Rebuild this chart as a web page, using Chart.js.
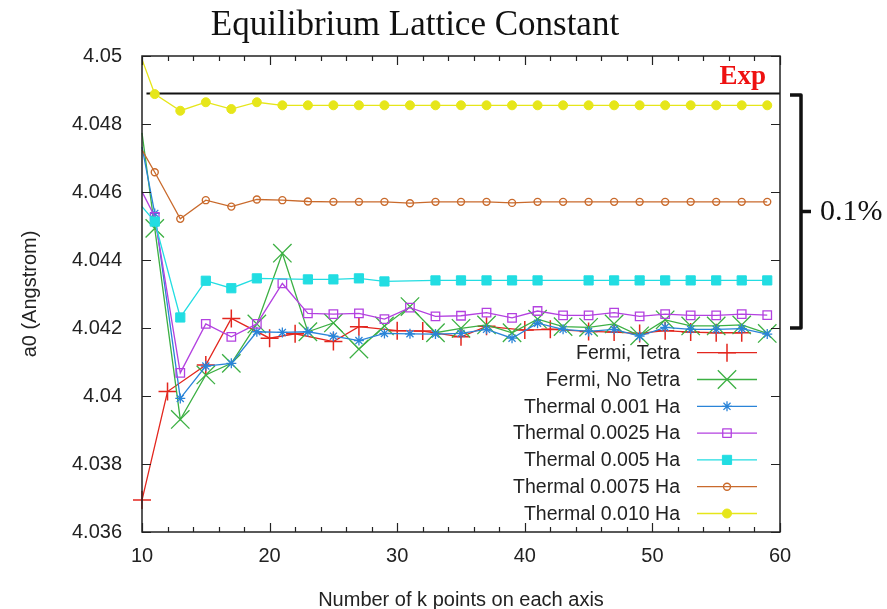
<!DOCTYPE html>
<html><head><meta charset="utf-8">
<script src="https://cdn.jsdelivr.net/npm/chart.js@4.4.1/dist/chart.umd.min.js"></script>
<style>html,body{margin:0;padding:0;background:#fff;}#wrap{width:887px;height:609px;position:relative;}</style>
</head><body><div id="wrap"><canvas id="c" width="887" height="609"></canvas></div>
<script>
// ---------- data ----------
const kOdd = [10,11,13,15,17,19,21,23,25,27,29,31,33,35,37,39,41,43,45,47,49,51,53,55,57,59];
const kTetra = [10,12,15,17,20,22,25,27,30,32,35,37,40,42,45,47,49,51,53,55,57];
const fermiTetra = [4.03694,4.04013,4.04091,4.04228,4.04170,4.04183,4.04160,4.04204,4.04192,4.04191,4.04174,4.04205,4.04194,4.04196,4.04190,4.04188,4.04184,4.04192,4.04188,4.04186,4.04186];
const fermiNoTetra = [4.04774,4.04493,4.03931,4.04062,4.04096,4.04212,4.04420,4.04189,4.04215,4.04138,4.04206,4.04263,4.04186,4.04199,4.04209,4.04186,4.04226,4.04204,4.04202,4.04212,4.04177,4.04224,4.04206,4.04206,4.04209,4.04184];
const thermal0001 = [4.04733,4.04537,4.03993,4.04088,4.04096,4.04189,4.04187,4.04189,4.04176,4.04163,4.04184,4.04183,4.04182,4.04184,4.04196,4.04170,4.04214,4.04196,4.04190,4.04196,4.04176,4.04202,4.04196,4.04196,4.04198,4.04182];
const thermal00025 = [4.04601,4.04527,4.04068,4.04212,4.04174,4.04212,4.04331,4.04243,4.04241,4.04243,4.04226,4.04260,4.04234,4.04236,4.04245,4.04230,4.04250,4.04237,4.04237,4.04245,4.04234,4.04241,4.04237,4.04237,4.04241,4.04238];
const thermal0005 = [4.04557,4.04513,4.04231,4.04339,4.04317,4.04346,null,4.04343,4.04343,4.04346,4.04337,null,4.04340,4.04340,4.04340,4.04340,4.04340,null,4.04340,4.04340,4.04340,4.04340,4.04340,4.04340,4.04340,4.04340];
const thermal00075 = [4.04724,4.04658,4.04521,4.04576,4.04557,4.04578,4.04576,4.04572,4.04571,4.04571,4.04571,4.04567,4.04571,4.04571,4.04571,4.04568,4.04571,4.04571,4.04571,4.04571,4.04571,4.04571,4.04571,4.04571,4.04571,4.04571];
const thermal0010 = [4.04990,4.04888,4.04839,4.04864,4.04844,4.04864,4.04855,4.04855,4.04855,4.04855,4.04855,4.04855,4.04855,4.04855,4.04855,4.04855,4.04855,4.04855,4.04855,4.04855,4.04855,4.04855,4.04855,4.04855,4.04855,4.04855];
const seriesNames = ['Fermi, Tetra','Fermi, No Tetra','Thermal 0.001 Ha','Thermal 0.0025 Ha','Thermal 0.005 Ha','Thermal 0.0075 Ha','Thermal 0.010 Ha'];
const expValue = 4.0489;
const expRange = [10.35, 60];
const bracketRange = [4.04200, 4.04885];
const bracketLabel = '0.1%';
const yTicks = [4.036,4.038,4.04,4.042,4.044,4.046,4.048,4.05];
const yTickLabels = ['4.036','4.038','4.04','4.042','4.044','4.046','4.048','4.05'];
const xTicks = [10,20,30,40,50,60];
const xTickLabels = ['10','20','30','40','50','60'];
const xMinorStep = 2;

// ---------- styles ----------
const styles = [
  {color:'#e3261e', pointStyle:'cross',    radius:9,   bw:1.5, fill:false, edge:true},
  {color:'#3cb043', pointStyle:'crossRot', radius:13,  bw:1.3, fill:false, edge:false},
  {color:'#2a84d8', pointStyle:'star',     radius:5,   bw:1.3, fill:false, edge:false},
  {color:'#b341e0', pointStyle:'rect',     radius:6,   bw:1.3, fill:false, edge:false},
  {color:'#22dde2', pointStyle:'rect',     radius:6.5, bw:1,   fill:true,  edge:false},
  {color:'#c96a2c', pointStyle:'circle',   radius:3.5, bw:1.4, fill:false, edge:false},
  {color:'#e6e61a', pointStyle:'circle',   radius:4.5, bw:1,   fill:true,  edge:false}
];
const sansFont = "'Liberation Sans', Arial, sans-serif";
const serifFont = "'Liberation Serif', 'Times New Roman', serif";
const textColor = '#222';

const seriesX = [kTetra,kOdd,kOdd,kOdd,kOdd,kOdd,kOdd];
const seriesY = [fermiTetra,fermiNoTetra,thermal0001,thermal00025,thermal0005,thermal00075,thermal0010];

const datasets = seriesY.map((ys,i)=>{
  const s = styles[i];
  return {
    label: seriesNames[i],
    data: seriesX[i].map((k,j)=>({x:k, y:ys[j]})),
    borderColor: s.color,
    backgroundColor: s.fill ? s.color : 'rgba(0,0,0,0)',
    borderWidth: 1.3,
    pointStyle: s.pointStyle,
    pointRadius: ctx => (!s.edge && ctx.raw && ctx.raw.x === 10) ? 0 : s.radius,
    pointHoverRadius: s.radius,
    pointBorderWidth: s.bw,
    pointBorderColor: s.color,
    pointBackgroundColor: s.fill ? s.color : 'rgba(0,0,0,0)',
    spanGaps: true,
    clip: false,
    tension: 0,
    order: -i
  };
});
datasets.push({
  label: 'Exp',
  data: expRange.map(x=>({x:x, y:expValue})),
  borderColor: '#111',
  borderWidth: 2,
  pointRadius: 0,
  order: 10
});

function drawMarker(ctx, s, x, y){
  ctx.save();
  ctx.strokeStyle = s.color;
  ctx.fillStyle = s.fill ? s.color : 'rgba(0,0,0,0)';
  ctx.lineWidth = s.bw;
  if (Chart.helpers && Chart.helpers.drawPoint) {
    Chart.helpers.drawPoint(ctx, {pointStyle:s.pointStyle, rotation:0, radius:s.radius, borderWidth:s.bw}, x, y);
  }
  ctx.restore();
}

const decorations = {
  id: 'decorations',
  afterDatasetsDraw(chart){
    const ctx = chart.ctx;
    const a = chart.chartArea;
    const xs = chart.scales.x, ys = chart.scales.y;
    ctx.save();
    // frame
    ctx.strokeStyle = '#222';
    ctx.lineWidth = 1.5;
    ctx.strokeRect(a.left, a.top, a.right - a.left, a.bottom - a.top);
    // y ticks (inward, both sides)
    ctx.lineWidth = 1.2;
    ctx.beginPath();
    yTicks.forEach(v=>{
      const py = Math.round(ys.getPixelForValue(v)) + 0.5;
      ctx.moveTo(a.left, py); ctx.lineTo(a.left + 9, py);
      ctx.moveTo(a.right, py); ctx.lineTo(a.right - 9, py);
    });
    // x ticks (inward, top and bottom), minor every 2
    for (let v = xs.min; v <= xs.max + 1e-9; v += xMinorStep) {
      const px = Math.round(xs.getPixelForValue(v)) + 0.5;
      const len = (v % 10 === 0) ? 9 : 5;
      ctx.moveTo(px, a.bottom); ctx.lineTo(px, a.bottom - len);
      ctx.moveTo(px, a.top); ctx.lineTo(px, a.top + len);
    }
    ctx.stroke();

    // Exp label
    const ey = ys.getPixelForValue(expValue);
    ctx.fillStyle = '#ee1111';
    ctx.font = "bold 27px " + serifFont;
    ctx.textAlign = 'right';
    ctx.textBaseline = 'alphabetic';
    ctx.fillText('Exp', a.right - 14, ey - 9);

    // bracket
    const bt = ys.getPixelForValue(bracketRange[1]);
    const bb = ys.getPixelForValue(bracketRange[0]);
    const bm = (bt + bb) / 2;
    ctx.strokeStyle = '#111';
    ctx.lineWidth = 3.5;
    ctx.lineJoin = 'round';
    ctx.beginPath();
    ctx.moveTo(a.right + 10, bt);
    ctx.lineTo(a.right + 21, bt);
    ctx.lineTo(a.right + 21, bb);
    ctx.lineTo(a.right + 10, bb);
    ctx.moveTo(a.right + 21, bm);
    ctx.lineTo(a.right + 31, bm);
    ctx.stroke();
    ctx.fillStyle = '#111';
    ctx.font = "30px " + serifFont;
    ctx.textAlign = 'left';
    ctx.textBaseline = 'middle';
    ctx.fillText(bracketLabel, a.right + 40, bm + 1);

    // legend (inside plot, bottom right)
    ctx.font = "19.5px " + sansFont;
    ctx.textAlign = 'right';
    ctx.textBaseline = 'middle';
    const rowH = 26.8;
    const firstY = a.bottom - 179.3;
    seriesNames.forEach((name,i)=>{
      const y = firstY + i*rowH;
      const s = styles[i];
      ctx.fillStyle = textColor;
      ctx.fillText(name, a.right - 100, y + 1);
      ctx.strokeStyle = s.color;
      ctx.lineWidth = 1.3;
      ctx.beginPath();
      ctx.moveTo(a.right - 83, y); ctx.lineTo(a.right - 23, y);
      ctx.stroke();
      drawMarker(ctx, s, a.right - 53, y);
    });
    ctx.restore();
  }
};

new Chart(document.getElementById('c'), {
  type: 'line',
  data: { datasets },
  plugins: [decorations],
  options: {
    responsive: false,
    devicePixelRatio: 1,
    animation: false,
    layout: { padding: { left: 50, right: 107, top: 0, bottom: 0 } },
    plugins: {
      legend: { display: false },
      tooltip: { enabled: false },
      title: {
        display: true,
        text: 'Equilibrium Lattice Constant',
        color: '#111',
        font: { family: serifFont, size: 35, weight: 'normal', lineHeight: 1.2 },
        padding: { top: 5, bottom: 9 }
      }
    },
    scales: {
      x: {
        type: 'linear',
        min: 10, max: 60,
        afterBuildTicks: s => { s.ticks = xTicks.map(v=>({value:v})); },
        afterFit: s => { s.height = 77; },
        ticks: {
          callback: (v,i) => xTickLabels[i],
          color: textColor,
          font: { family: sansFont, size: 20 },
          padding: 12,
          maxRotation: 0
        },
        grid: { display: false, drawTicks: false },
        border: { display: false },
        title: {
          display: true,
          text: 'Number of k points on each axis',
          color: textColor,
          font: { family: sansFont, size: 20 },
          padding: { top: 0, bottom: -3 }
        }
      },
      y: {
        type: 'linear',
        min: 4.036, max: 4.05,
        afterBuildTicks: s => { s.ticks = yTicks.map(v=>({value:v})); },
        afterFit: s => { s.width = 92; },
        ticks: {
          callback: (v,i) => yTickLabels[i],
          color: textColor,
          font: { family: sansFont, size: 20 },
          padding: 20
        },
        grid: { display: false, drawTicks: false },
        border: { display: false },
        title: {
          display: true,
          text: 'a0 (Angstrom)',
          color: textColor,
          font: { family: sansFont, size: 20 },
          padding: { top: -32, bottom: 0 }
        }
      }
    }
  }
});
</script>
</body></html>
